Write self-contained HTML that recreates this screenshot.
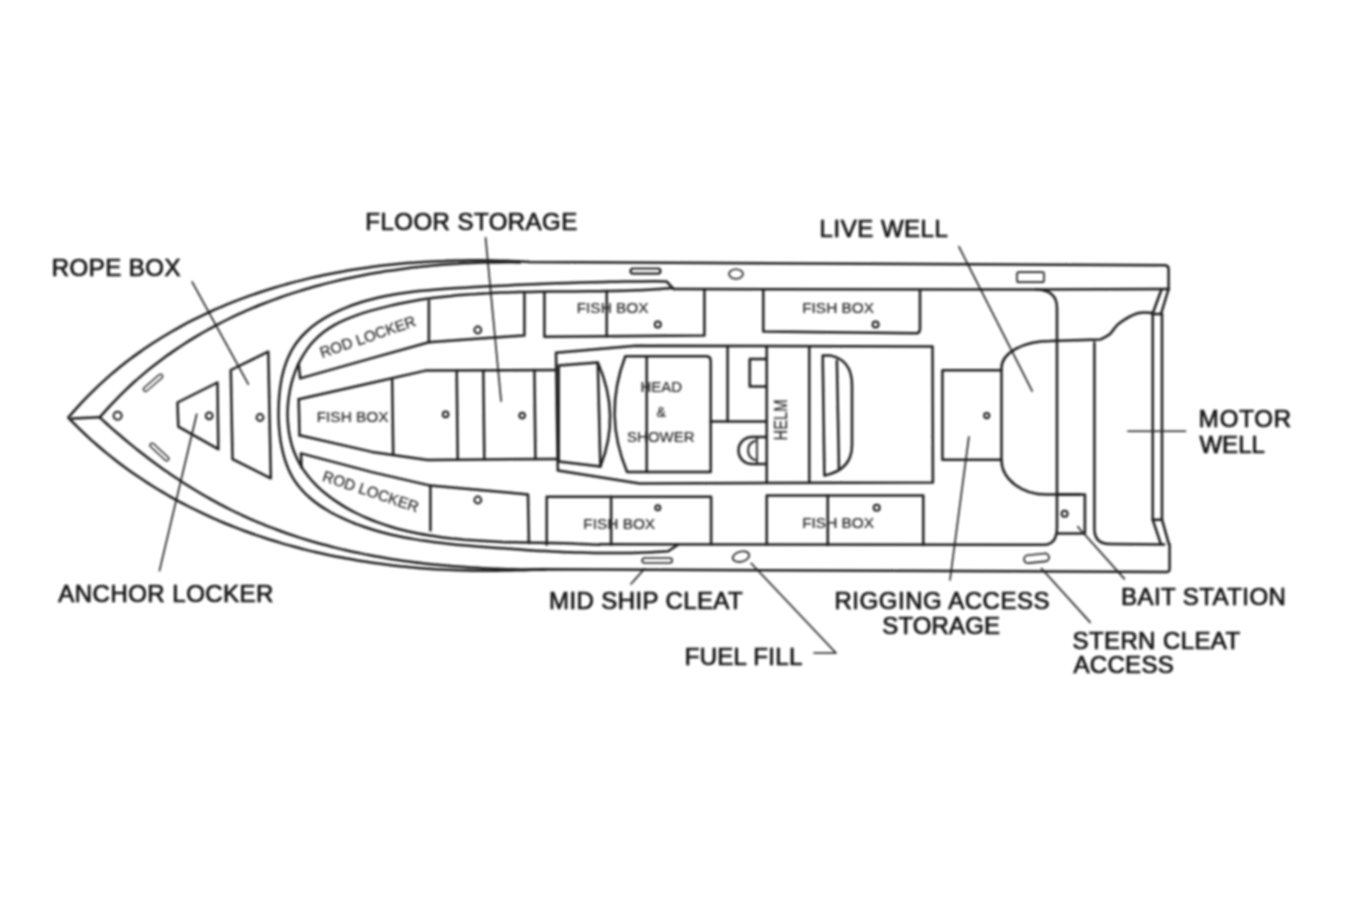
<!DOCTYPE html>
<html><head><meta charset="utf-8"><title>Boat Layout</title>
<style>
html,body{margin:0;padding:0;background:#fff;}
body{width:1350px;height:900px;overflow:hidden;}
svg{display:block;}
text{font-family:"Liberation Sans",sans-serif;}
</style></head>
<body>
<svg width="1350" height="900" viewBox="0 0 1350 900">
<defs><filter id="b" filterUnits="userSpaceOnUse" x="0" y="0" width="1350" height="900"><feGaussianBlur stdDeviation="1"/></filter></defs>
<rect width="1350" height="900" fill="#fff"/>
<g filter="url(#b)">
<g fill="none" stroke="#1e1e1e" stroke-width="2.5" stroke-linecap="round" stroke-linejoin="round">
<path d="M68.3,417.6 C69.7,416 73.8,411.2 76.6,408.1 C79.4,405 82.3,401.9 85.2,398.9 C88,395.9 91,393 94,390.1 C96.9,387.2 99.9,384.4 103,381.6 C106.1,378.8 109.1,376.1 112.3,373.4 C115.4,370.8 118.6,368.1 121.8,365.6 C125,363 128.2,360.5 131.5,358.1 C134.7,355.6 138,353.3 141.4,350.9 C144.7,348.6 148.1,346.3 151.5,344 C154.9,341.8 158.3,339.6 161.8,337.5 C165.3,335.4 168.8,333.3 172.3,331.2 C175.8,329.2 179.3,327.2 182.9,325.3 C186.5,323.4 190.1,321.5 193.7,319.7 C197.4,317.8 201,316 204.7,314.3 C208.4,312.6 212.1,310.9 215.8,309.2 C219.6,307.6 223.3,306 227.1,304.4 C230.9,302.9 234.7,301.4 238.5,299.9 C242.3,298.5 246.1,297.1 250,295.7 C253.9,294.3 257.7,293 261.6,291.7 C265.5,290.4 269.4,289.2 273.4,288 C277.3,286.8 281.2,285.7 285.2,284.6 C289.2,283.5 293.1,282.4 297.1,281.4 C301.1,280.3 305.1,279.4 309.1,278.4 C313.1,277.5 317.2,276.6 321.2,275.7 C325.2,274.8 329.3,274 333.3,273.2 C337.4,272.5 341.5,271.7 345.5,271 C349.6,270.3 353.7,269.6 357.8,269 C361.9,268.4 366,267.8 370.1,267.2 C374.2,266.6 378.3,266.1 382.4,265.6 C386.5,265.1 390.6,264.7 394.8,264.3 C398.9,263.9 403,263.5 407.1,263.1 C411.2,262.8 415.4,262.5 419.5,262.2 C423.6,261.9 427.7,261.7 431.9,261.4 C436,261.2 440.1,261 444.2,260.9 C448.3,260.7 452.4,260.6 456.6,260.5 C460.7,260.4 464.8,260.4 468.9,260.3 C473,260.3 477.1,260.3 481.2,260.3 C485.2,260.4 489.3,260.4 493.4,260.5 C497.5,260.6 501.5,260.7 505.6,260.8 C509.6,261 513.7,261.2 517.7,261.3 C521.8,261.5 527.8,261.9 529.8,262 L1165,265.2 Q1168.6,265.4 1168.6,269 L1168.6,289.5"/>
<path d="M69.5,418.9 C70.9,420.4 75.4,424.9 78.4,427.9 C81.5,430.9 84.5,433.8 87.6,436.6 C90.7,439.5 93.9,442.3 97,445 C100.2,447.8 103.4,450.5 106.6,453.1 C109.9,455.8 113.1,458.3 116.4,460.9 C119.7,463.4 123,465.9 126.4,468.4 C129.7,470.8 133.1,473.2 136.5,475.5 C139.9,477.9 143.4,480.1 146.8,482.4 C150.3,484.6 153.8,486.8 157.3,489 C160.8,491.1 164.4,493.2 167.9,495.3 C171.5,497.3 175.1,499.3 178.7,501.3 C182.3,503.2 186,505.1 189.6,507 C193.3,508.8 197,510.6 200.7,512.4 C204.4,514.2 208.1,515.9 211.9,517.6 C215.6,519.3 219.4,520.9 223.2,522.5 C227,524.1 230.8,525.6 234.6,527.1 C238.4,528.6 242.3,530.1 246.1,531.5 C250,532.9 253.9,534.3 257.8,535.6 C261.7,536.9 265.6,538.2 269.5,539.5 C273.5,540.7 277.4,541.9 281.4,543.1 C285.3,544.3 289.3,545.4 293.3,546.5 C297.3,547.6 301.3,548.6 305.3,549.6 C309.3,550.6 313.3,551.6 317.4,552.5 C321.4,553.4 325.4,554.3 329.5,555.2 C333.6,556 337.6,556.8 341.7,557.6 C345.8,558.4 349.9,559.1 354,559.8 C358,560.5 362.1,561.2 366.3,561.8 C370.4,562.5 374.5,563.1 378.6,563.6 C382.7,564.2 386.8,564.7 391,565.2 C395.1,565.7 399.2,566.2 403.4,566.6 C407.5,567 411.7,567.4 415.8,567.7 C420,568.1 424.1,568.4 428.3,568.7 C432.4,569 436.6,569.3 440.7,569.5 C444.9,569.7 449,569.9 453.2,570.1 C457.3,570.3 461.5,570.4 465.6,570.5 C469.8,570.6 473.9,570.7 478.1,570.7 C482.2,570.8 486.4,570.8 490.5,570.8 C494.6,570.7 498.8,570.7 502.9,570.6 C507,570.6 511.2,570.5 515.3,570.3 C519.4,570.2 523.5,570.1 527.6,569.9 C531.7,569.7 537.9,569.4 539.9,569.3 L1166,572 Q1169.6,572.2 1169.6,569 L1169.6,544.5"/>
<path d="M99.9,417.2 C101.3,415.6 105.6,410.8 108.4,407.6 C111.3,404.4 114.3,401.3 117.3,398.3 C120.2,395.3 123.3,392.3 126.3,389.4 C129.4,386.5 132.5,383.6 135.6,380.8 C138.7,378 141.9,375.3 145.1,372.6 C148.3,369.9 151.6,367.3 154.9,364.8 C158.2,362.2 161.5,359.7 164.8,357.2 C168.2,354.8 171.6,352.4 175,350.1 C178.4,347.7 181.9,345.4 185.3,343.2 C188.8,341 192.3,338.8 195.9,336.7 C199.4,334.6 203,332.5 206.6,330.5 C210.2,328.5 213.8,326.5 217.5,324.6 C221.1,322.7 224.8,320.8 228.5,319 C232.2,317.2 236,315.4 239.7,313.7 C243.5,312 247.3,310.3 251.1,308.7 C254.9,307.1 258.7,305.5 262.6,304 C266.4,302.5 270.3,301 274.2,299.6 C278.1,298.2 282,296.8 285.9,295.4 C289.8,294.1 293.8,292.8 297.7,291.6 C301.7,290.3 305.7,289.1 309.7,288 C313.7,286.8 317.7,285.7 321.7,284.7 C325.7,283.6 329.8,282.6 333.8,281.6 C337.9,280.6 341.9,279.7 346,278.8 C350.1,277.9 354.2,277 358.3,276.2 C362.4,275.4 366.5,274.6 370.6,273.8 C374.7,273.1 378.8,272.4 383,271.7 C387.1,271.1 391.2,270.4 395.4,269.9 C399.5,269.3 403.7,268.7 407.8,268.2 C412,267.7 416.1,267.2 420.3,266.8 C424.5,266.3 428.6,265.9 432.8,265.5 C436.9,265.2 441.1,264.8 445.3,264.5 C449.4,264.2 453.6,263.9 457.8,263.7 C461.9,263.4 466.1,263.2 470.2,263.1 C474.4,262.9 478.6,262.7 482.7,262.6 C486.9,262.5 491,262.4 495.1,262.4 C499.3,262.3 503.4,262.3 507.5,262.3 C511.7,262.3 517.8,262.4 519.9,262.4"/>
<path d="M99.4,417.2 C100.9,418.6 105.6,422.8 108.7,425.6 C111.8,428.4 114.9,431.1 118.1,433.8 C121.3,436.6 124.5,439.2 127.7,441.9 C130.9,444.6 134.2,447.2 137.4,449.8 C140.7,452.4 144,454.9 147.3,457.4 C150.6,459.9 153.9,462.4 157.3,464.9 C160.6,467.3 164,469.7 167.4,472.1 C170.8,474.4 174.3,476.8 177.7,479 C181.2,481.3 184.6,483.6 188.1,485.8 C191.6,488 195.2,490.1 198.7,492.2 C202.3,494.4 205.8,496.4 209.4,498.4 C213,500.5 216.6,502.4 220.2,504.4 C223.9,506.3 227.5,508.2 231.2,510 C234.9,511.8 238.6,513.6 242.3,515.3 C246,517.1 249.8,518.7 253.5,520.4 C257.3,522 261.1,523.6 264.9,525.1 C268.7,526.6 272.5,528.1 276.4,529.5 C280.2,531 284.1,532.3 288,533.7 C291.8,535 295.7,536.3 299.7,537.6 C303.6,538.8 307.5,540 311.4,541.2 C315.4,542.3 319.4,543.5 323.3,544.5 C327.3,545.6 331.3,546.6 335.3,547.6 C339.3,548.6 343.3,549.6 347.3,550.5 C351.4,551.4 355.4,552.3 359.5,553.1 C363.5,554 367.6,554.8 371.6,555.5 C375.7,556.3 379.8,557 383.9,557.7 C387.9,558.4 392,559.1 396.1,559.7 C400.3,560.3 404.4,560.9 408.5,561.4 C412.6,562 416.7,562.5 420.8,563 C425,563.5 429.1,564 433.2,564.4 C437.4,564.8 441.5,565.2 445.7,565.6 C449.8,566 454,566.3 458.1,566.6 C462.2,566.9 466.4,567.2 470.5,567.5 C474.7,567.7 478.8,568 483,568.2 C487.1,568.4 491.3,568.6 495.4,568.8 C499.6,568.9 503.7,569.1 507.9,569.2 C512,569.3 516.2,569.4 520.3,569.5 C524.4,569.5 528.6,569.6 532.7,569.6 C536.8,569.7 543,569.7 545.1,569.7"/>
<path d="M72,418.6 L99.5,417.3"/>
<path d="M673.5,288.8 L666.7,281.6 C664.7,281.3 658.5,281.3 654.3,281.3 C650.2,281.3 646.1,281.4 641.9,281.4 C637.8,281.4 633.7,281.5 629.6,281.5 C625.5,281.6 621.4,281.6 617.3,281.7 C613.2,281.8 609.1,281.8 605,281.9 C601,282 596.9,282.1 592.8,282.2 C588.8,282.3 584.7,282.4 580.6,282.5 C576.6,282.6 572.5,282.8 568.5,282.9 C564.4,283 560.3,283.2 556.3,283.3 C552.2,283.5 548.2,283.6 544.1,283.8 C540.1,283.9 536,284.1 532,284.3 C527.9,284.5 523.9,284.6 519.8,284.8 C515.7,285 511.7,285.2 507.6,285.4 C503.5,285.6 499.5,285.8 495.4,286 C491.3,286.2 487.2,286.4 483.1,286.6 C479,286.9 474.9,287.1 470.8,287.3 C466.7,287.5 462.6,287.8 458.5,288 C454.4,288.3 450.3,288.5 446.1,288.8 C442,289.1 437.9,289.4 433.8,289.7 C429.6,290 425.5,290.4 421.4,290.8 C417.3,291.2 413.2,291.7 409.1,292.2 C405,292.8 400.9,293.4 396.9,294 C392.8,294.7 388.8,295.4 384.7,296.3 C380.7,297.1 376.7,298 372.8,299 C368.8,300 364.9,301.1 361,302.3 C357.1,303.6 353.2,304.9 349.3,306.3 C345.5,307.8 341.7,309.4 338,311.1 C334.3,312.8 330.6,314.6 327.1,316.6 C323.6,318.6 320.2,320.8 317,323.1 C313.7,325.4 310.6,327.8 307.7,330.5 C304.8,333.1 302.1,335.9 299.6,338.9 C297.1,341.9 294.8,345 292.8,348.4 C290.8,351.7 289.1,355.3 287.5,359 C286,362.6 284.7,366.5 283.6,370.4 C282.5,374.4 281.6,378.5 280.9,382.6 C280.2,386.7 279.7,391 279.3,395.2 C278.9,399.5 278.7,403.8 278.6,408.2 C278.5,412.5 278.5,416.8 278.7,421.2 C278.9,425.5 279.2,429.8 279.7,434 C280.1,438.3 280.7,442.5 281.6,446.6 C282.4,450.7 283.4,454.7 284.6,458.6 C285.8,462.5 287.2,466.3 288.8,469.9 C290.4,473.5 292.3,477 294.4,480.3 C296.5,483.5 298.9,486.6 301.5,489.5 C304,492.5 306.8,495.2 309.8,497.8 C312.7,500.4 315.9,502.8 319.2,505.1 C322.4,507.4 325.9,509.5 329.4,511.5 C332.9,513.6 336.6,515.4 340.3,517.2 C344,519 347.7,520.6 351.5,522.1 C355.3,523.7 359.2,525.1 363.1,526.5 C366.9,527.8 370.8,529.1 374.8,530.2 C378.7,531.4 382.6,532.5 386.6,533.5 C390.6,534.5 394.6,535.4 398.6,536.2 C402.6,537.1 406.7,537.9 410.7,538.6 C414.8,539.3 418.8,540 422.9,540.6 C427,541.2 431.1,541.8 435.2,542.3 C439.3,542.8 443.4,543.3 447.5,543.7 C451.6,544.2 455.7,544.6 459.8,545 C464,545.3 468.1,545.7 472.2,546 C476.3,546.4 480.4,546.7 484.5,547 C488.6,547.3 492.7,547.6 496.8,547.9 C500.9,548.2 504.9,548.5 509,548.8 C513.1,549.1 517.1,549.4 521.2,549.6 C525.3,549.9 529.3,550.2 533.4,550.4 C537.4,550.7 541.5,550.9 545.5,551.1 C549.6,551.3 553.6,551.5 557.7,551.7 C561.7,551.9 565.8,552.1 569.8,552.2 C573.9,552.4 577.9,552.5 582,552.6 C586,552.7 590.1,552.8 594.1,552.9 C598.2,553 602.3,553 606.3,553 C610.4,553.1 614.5,553.1 618.6,553 C622.7,553 626.7,553 630.8,552.9 C635,552.8 639.1,552.7 643.2,552.5 C647.3,552.4 651.4,552.2 655.6,552 C659.7,551.8 666,551.4 668.1,551.3 L678,544.8"/>
<path d="M672.7,288 C670.7,288.1 664.7,288.6 660.6,288.9 C656.6,289.2 652.6,289.4 648.5,289.7 C644.4,289.9 640.4,290.1 636.3,290.2 C632.2,290.4 628.2,290.5 624.1,290.7 C620,290.8 615.9,290.9 611.8,291 C607.7,291.1 603.6,291.1 599.5,291.2 C595.4,291.2 591.3,291.3 587.2,291.3 C583.1,291.4 579,291.4 574.8,291.4 C570.7,291.5 566.6,291.5 562.5,291.5 C558.4,291.5 554.2,291.6 550.1,291.6 C546,291.6 541.9,291.7 537.7,291.7 C533.6,291.8 529.5,291.9 525.4,291.9 C521.3,292 517.1,292.1 513,292.2 C508.9,292.3 504.8,292.5 500.7,292.6 C496.5,292.8 492.4,292.9 488.3,293.2 C484.2,293.4 480.1,293.6 476,293.9 C471.9,294.1 467.8,294.4 463.7,294.7 C459.6,295.1 455.5,295.4 451.4,295.9 C447.3,296.3 443.3,296.7 439.2,297.2 C435.1,297.7 431.1,298.2 427,298.8 C422.9,299.4 418.9,300.1 414.9,300.8 C410.8,301.5 406.8,302.2 402.8,303 C398.7,303.8 394.7,304.7 390.7,305.6 C386.7,306.5 382.7,307.5 378.7,308.6 C374.7,309.6 370.8,310.7 366.8,311.9 C362.9,313.1 358.9,314.4 355.1,315.8 C351.2,317.2 347.4,318.7 343.7,320.4 C340,322 336.4,323.8 333,325.9 C329.6,327.9 326.2,330 323.1,332.5 C320,334.9 317.1,337.5 314.4,340.4 C311.6,343.2 309.1,346.3 306.8,349.6 C304.5,352.9 302.4,356.3 300.5,359.9 C298.5,363.5 296.8,367.3 295.4,371.1 C293.9,375 292.6,379 291.5,383.1 C290.5,387.1 289.6,391.3 289,395.5 C288.3,399.7 287.9,404 287.7,408.3 C287.5,412.5 287.5,416.8 287.8,421.1 C288,425.3 288.5,429.5 289.2,433.7 C289.9,437.8 290.9,441.9 292,445.8 C293.2,449.8 294.7,453.6 296.4,457.3 C298,461 300,464.5 302.1,467.9 C304.3,471.2 306.6,474.4 309.2,477.5 C311.7,480.6 314.5,483.5 317.3,486.3 C320.2,489.1 323.2,491.8 326.4,494.3 C329.5,496.8 332.8,499.2 336.1,501.4 C339.5,503.7 342.9,505.8 346.4,507.8 C349.9,509.9 353.4,511.7 357,513.5 C360.6,515.3 364.3,517 368,518.5 C371.7,520.1 375.5,521.6 379.3,522.9 C383.1,524.3 386.9,525.5 390.8,526.7 C394.7,527.9 398.7,529 402.6,530 C406.6,531 410.6,531.9 414.7,532.7 C418.7,533.6 422.8,534.3 426.9,535 C431,535.7 435.1,536.3 439.2,536.9 C443.4,537.5 447.5,538 451.7,538.5 C455.9,538.9 460.1,539.3 464.3,539.7 C468.5,540 472.7,540.3 476.9,540.6 C481.1,540.9 485.4,541.1 489.6,541.3 C493.8,541.5 498,541.7 502.2,541.9 C506.5,542 510.7,542.1 514.9,542.3 C519.1,542.4 523.2,542.5 527.4,542.5 C531.6,542.6 535.7,542.7 539.9,542.8 C544,542.9 548.1,542.9 552.2,543 C556.3,543.1 560.3,543.2 564.3,543.3 C568.4,543.4 572.4,543.5 576.3,543.7 C580.2,543.8 584.2,544 588,544.2 C591.9,544.4 597.6,544.7 599.5,544.8"/>
<path d="M673.5,289 L1036,289.6 Q1057,290 1057,308 L1057,527 Q1057,544.8 1044,544.8 L600,544.2"/>
<path d="M1169,289 L1036,289.6"/>
<path d="M177.5,402.5 L217.5,382.5 L218.3,449.2 L178.3,426.7 Z"/>
<path d="M230.8,370 L268.3,351.7 L270.8,478.3 L232.5,459.2 Z"/>
<rect x="141" y="380.7" width="24" height="4.2" rx="2.1" transform="rotate(-41 153 382.8)" stroke-width="1.3"/>
<rect x="147.4" y="449.9" width="24" height="4.2" rx="2.1" transform="rotate(42.6 159.4 452)" stroke-width="1.3"/>
<circle cx="117.6" cy="415.7" r="4" stroke-width="2"/>
<circle cx="209.2" cy="415.8" r="3.4" stroke-width="2"/>
<circle cx="260" cy="417.5" r="3.4" stroke-width="2"/>
<path d="M298.7,363.9 L300.2,378.4 L372,358.1 L428.9,342.2 L428.9,301"/>
<path d="M524.4,294 L524.4,335.6 L480,338.5 L428.9,342.2"/>
<circle cx="477.8" cy="330" r="3.4" stroke-width="2"/>
<path d="M301.6,467.8 L300.9,453.4 L372,472.1 L430.4,485.6 L430.4,530.4"/>
<path d="M430,485.6 L480,490 L528,494.4 L528.9,543"/>
<circle cx="477.8" cy="500" r="3.4" stroke-width="2"/>
<path d="M298.7,399.3 L372,382.7 L425.6,370.6 L556.7,370"/>
<path d="M298.7,399.3 L299.5,435.3"/>
<path d="M299.5,435.3 L372,451.9 L427.8,460 L556.7,458.9"/>
<path d="M392.2,380 L393.2,454.5"/>
<path d="M456.7,370.5 L457.7,459.5"/>
<path d="M483.3,370.2 L484.3,459.3"/>
<path d="M534.4,370 L535.4,459"/>
<circle cx="445.6" cy="414.4" r="2.8" stroke-width="2"/>
<circle cx="522.2" cy="415.6" r="2.8" stroke-width="2"/>
<path d="M556,352.8 L636,345.7 L932.5,346.6 L932.9,482.6 L639.6,483.4 L557.8,470.5 Z"/>
<path d="M558.7,365.5 L597.8,362.6 L600.4,466.6 L558.7,461.5 Z"/>
<path d="M597.8,362.6 Q621,415 600.4,466.6"/>
<path d="M625.3,356.3 L706,356.3 Q710.7,356.3 710.7,361 L710.7,471.9 L627.1,471.9 Q603,415 625.3,356.3 Z"/>
<path d="M646.7,356.3 L646.7,471.9"/>
<path d="M727.6,346.6 L727.6,421.2"/>
<path d="M710.7,421.6 L766.7,421.6"/>
<path d="M766.7,359 L749.8,359 L749.8,386.6 L766.7,386.6"/>
<path d="M766.7,346.6 L766.7,482.6"/>
<path d="M809.3,346.6 L809.3,482.6"/>
<path d="M766.7,437 L752,437 A13.5,13.5 0 0 0 752,464 L766.7,464"/>
<path d="M755,441 A10,10 0 0 0 755,460" stroke-width="2"/>
<path d="M757,437 L757,464" stroke-width="1.8"/>
<path d="M822.7,355.4 L830,355.4 Q852,360 852,385 L852,445 Q852,470 824.4,475.4 Z"/>
<path d="M836.9,360.8 L839,470.1"/>
<path d="M544.4,292.2 L544.4,336.7 L704.4,335.6 L704.4,290"/>
<path d="M606.7,291.5 L606.7,336.2"/>
<circle cx="657.8" cy="324.4" r="3" stroke-width="2"/>
<path d="M763.3,290 L763.3,331.5 L916,333.3 Q920,333.3 920,329 L920,290"/>
<circle cx="875.6" cy="324.4" r="3" stroke-width="2"/>
<path d="M546.7,544.4 L546.7,496.7 L711.1,496.7 L711.1,544.4"/>
<path d="M611.1,496.7 L611.1,544.4"/>
<circle cx="657.8" cy="507.8" r="2.5" stroke-width="2"/>
<path d="M766.7,544.4 L766.7,495.6 L923.3,495.6 L923.3,545"/>
<path d="M827.8,495.6 L827.8,545"/>
<circle cx="876.7" cy="507.8" r="3" stroke-width="2"/>
<path d="M1001.5,370.2 L942.4,370.2 L942.4,459.8 L1001.5,459.8 Z"/>
<circle cx="986.7" cy="415.6" r="2.6" stroke-width="2"/>
<path d="M1001.5,370 L1001.5,368 A48.5,27 0 0 1 1050,341 L1100.4,339.5 C1102,338.6 1106.9,336.7 1110,334 C1113.1,331.3 1114.4,327 1119,323.5 C1123.6,320 1132.1,314.9 1137.7,313.2 C1143.3,311.4 1150.2,313 1152.7,313"/>
<path d="M1001.5,460 A45.2,34.6 0 0 0 1046.7,494.6 L1080,494.6"/>
<path d="M1056.9,494.6 L1084.9,494.6 L1084.9,533.5 L1056.9,533.5"/>
<circle cx="1064.6" cy="513.8" r="3" stroke-width="2"/>
<path d="M1094.4,342.5 L1094.4,528.8 Q1094.4,544 1109.7,544 L1164.2,544.4"/>
<path d="M1152.7,314 L1152.7,519.7 L1160.9,544.2"/>
<path d="M1152.7,519.7 L1162,519.7"/>
<path d="M1152.7,314 L1162,314"/>
<path d="M1162,314 L1162,519.7 L1168.9,544.2"/>
<path d="M1152.5,314 L1161.3,290"/>
<path d="M1161,314 L1168.3,290"/>
<rect x="630.5" y="268.5" width="30" height="5.2" rx="2.6" transform="rotate(0 645.5 271.1)" stroke-width="2.2"/>
<ellipse cx="736" cy="274" rx="7" ry="4.8" stroke-width="1.6"/>
<rect x="1017" y="272.2" width="27" height="10" rx="2" stroke-width="1.7"/>
<rect x="642.2" y="558" width="30" height="5" rx="2.5" transform="rotate(0 657.2 560.5)" stroke-width="1.5"/>
<ellipse cx="741" cy="556.6" rx="8.5" ry="5" transform="rotate(-15 741 556.6)" stroke-width="1.6"/>
<rect x="1024" y="554.4" width="25" height="8" rx="4" transform="rotate(-6 1036 558)" stroke-width="1.7"/>
<path d="M192.1,281.9 L248.3,384.2" stroke-width="1.6"/>
<path d="M196.7,414.2 L159.5,570.6" stroke-width="1.6"/>
<path d="M485.6,237.8 L501.1,401.1" stroke-width="1.6"/>
<path d="M958.9,246.7 L1032.2,391.1" stroke-width="1.6"/>
<path d="M1127.8,431.3 L1185.6,431.3" stroke-width="1.6"/>
<path d="M968.9,436.7 L950,580" stroke-width="1.6"/>
<path d="M1077.8,526.7 L1124.4,578.9" stroke-width="1.6"/>
<path d="M1041.5,568.5 L1090.2,622.4" stroke-width="1.6"/>
<path d="M644.4,568.9 L631,584" stroke-width="1.6"/>
<path d="M751.1,563.3 L836,653 L814,653" stroke-width="1.6"/>
</g>
<g fill="#141414" stroke="#141414" stroke-width="0.7">
<text x="51.8" y="275.6" font-size="24" letter-spacing="0.46">ROPE BOX</text>
<text x="365.3" y="230" font-size="24" letter-spacing="0.47">FLOOR STORAGE</text>
<text x="819.6" y="236.7" font-size="24" letter-spacing="0.52">LIVE WELL</text>
<text x="1198.8" y="426.8" font-size="24" letter-spacing="0.85">MOTOR</text>
<text x="1199.4" y="452.5" font-size="24" letter-spacing="0.07">WELL</text>
<text x="58.3" y="601.9" font-size="24" letter-spacing="0.48">ANCHOR LOCKER</text>
<text x="549.1" y="609.4" font-size="24" letter-spacing="0.39">MID SHIP CLEAT</text>
<text x="684.7" y="665.3" font-size="24" letter-spacing="0.31">FUEL FILL</text>
<text x="834.4" y="608.9" font-size="24" letter-spacing="0.55">RIGGING ACCESS</text>
<text x="882.3" y="634.1" font-size="24" letter-spacing="0.12">STORAGE</text>
<text x="1121.1" y="605.1" font-size="24" letter-spacing="0.43">BAIT STATION</text>
<text x="1072.5" y="648.5" font-size="24" letter-spacing="0.4">STERN CLEAT</text>
<text x="1073.5" y="673.2" font-size="24" letter-spacing="0.3">ACCESS</text>
</g>
<g fill="#262626" stroke="#262626" stroke-width="0.2">
<text x="316.7" y="421.8" font-size="15.4">FISH BOX</text>
<text x="576.7" y="313" font-size="15.4">FISH BOX</text>
<text x="802.2" y="313.3" font-size="15.4">FISH BOX</text>
<text x="583.3" y="528.9" font-size="15.4">FISH BOX</text>
<text x="802.2" y="527.8" font-size="15.4">FISH BOX</text>
<text x="640.4" y="391.9" font-size="15">HEAD</text>
<text x="656.4" y="416.8" font-size="14">&amp;</text>
<text x="627.1" y="441.7" font-size="15">SHOWER</text>
<text x="0" y="0" font-size="15.2" transform="translate(322,358) rotate(-19)">ROD LOCKER</text>
<text x="0" y="0" font-size="15.2" transform="translate(321.5,480.5) rotate(18.5)">ROD LOCKER</text>
<text x="0" y="0" font-size="17.5" textLength="41" lengthAdjust="spacingAndGlyphs" transform="translate(787,440.5) rotate(-90)">HELM</text>
</g>
</g>
</svg>
</body></html>
